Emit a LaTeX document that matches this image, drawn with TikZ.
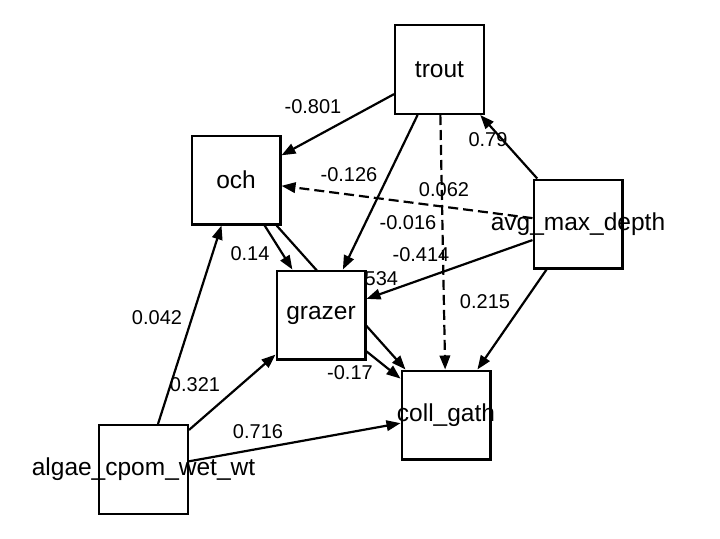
\documentclass[tikz,border=0pt]{standalone}
\usepackage{fontspec}
\setmainfont{Liberation Sans}
\usetikzlibrary{arrows.meta}
\pgfdeclarelayer{edges}
\pgfsetlayers{edges,main}
\begin{document}
\begin{tikzpicture}[x=1pt,y=-1pt,
  box/.style={draw, line width=2.2pt, fill=white, minimum width=88.8pt, minimum height=88.8pt, inner sep=0pt},
  ntext/.style={font=\fontsize{24.5}{28}\selectfont, inner sep=0pt},
  lab/.style={font=\fontsize{20}{22}\selectfont, inner sep=0pt},
  edge/.style={line width=2.2pt, -{Triangle[length=14pt,width=10.5pt]}},
  dedge/.style={edge, dash pattern=on 10pt off 5pt}]
\useasboundingbox (0,0) rectangle (720,538);

\node[box, label={[ntext]center:trout}] (trout) at (439.5,69.5) {};
\node[box, label={[ntext]center:och}] (och) at (236,180) {};
\node[box, label={[ntext]center:avg\_max\_depth}] (avg) at (578,224) {};
\node[box, label={[ntext]center:grazer}] (grazer) at (321,315) {};
\node[box, label={[ntext]center:coll\_gath}] (coll) at (446,415) {};
\node[box, label={[ntext]center:algae\_cpom\_wet\_wt}] (algae) at (143.5,469.5) {};

\begin{pgfonlayer}{edges}
\draw[edge] (trout) -- (och);
\draw[edge] (trout) -- (grazer);
\draw[dedge] (trout) -- (coll);
\draw[edge] (avg) -- (trout);
\draw[dedge] (avg) -- (och);
\draw[edge] (avg) -- (grazer);
\draw[edge] (avg) -- (coll);
\draw[edge] (och) -- (grazer);
\draw[edge] (och) -- (coll);
\draw[edge] (grazer) -- (coll);
\draw[edge] (algae) -- (och);
\draw[edge] (algae) -- (grazer);
\draw[edge] (algae) -- (coll);

\node[lab] (l1) at (313,107) {-0.801};
\node[lab] (l2) at (349,175) {-0.126};
\node[lab] (l3) at (444,190) {0.062};
\node[lab] (l4) at (488,140) {0.79};
\node[lab] (l5) at (408,223) {-0.016};
\node[lab] (l6) at (421,255) {-0.414};
\node[lab] (l7) at (250,254) {0.14};
\node[lab, anchor=west] (l8) at (364.5,279) {534};
\node[lab] (l9) at (157,318) {0.042};
\node[lab] (l10) at (195,385) {0.321};
\node[lab] (l11) at (258,432) {0.716};
\node[lab] (l12) at (485,302) {0.215};
\node[lab] (l13) at (350,373) {-0.17};
\end{pgfonlayer}
\end{tikzpicture}
\end{document}
